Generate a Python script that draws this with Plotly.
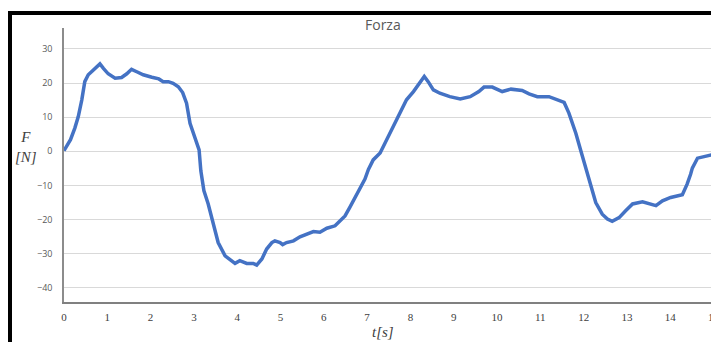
import plotly.graph_objects as go

t_s = [0.00, 0.06, 0.15, 0.25, 0.33, 0.41, 0.48, 0.56, 0.68, 0.83, 0.91, 1.02, 1.18, 1.33, 1.45,
       1.56, 1.68, 1.83, 2.03, 2.19, 2.29, 2.41, 2.52, 2.64, 2.74, 2.83, 2.91, 3.02, 3.12, 3.16,
       3.23, 3.33, 3.45, 3.56, 3.72, 3.83, 3.95, 4.06, 4.22, 4.37, 4.45, 4.57, 4.68, 4.80, 4.87,
       4.99, 5.05, 5.14, 5.30, 5.45, 5.61, 5.76, 5.91, 6.07, 6.26, 6.37, 6.49, 6.60, 6.72, 6.84,
       6.95, 7.03, 7.14, 7.30, 7.45, 7.64, 7.76, 7.91, 8.07, 8.22, 8.32, 8.41, 8.53, 8.68, 8.91,
       9.15, 9.38, 9.58, 9.70, 9.89, 10.12, 10.32, 10.58, 10.74, 10.93, 11.20, 11.36, 11.55, 11.66,
       11.82, 11.93, 12.05, 12.16, 12.28, 12.43, 12.55, 12.66, 12.82, 12.97, 13.13, 13.36, 13.51,
       13.67, 13.82, 14.01, 14.28, 14.39, 14.47, 14.51, 14.63, 14.82, 14.97, 15.06]
forza_N = [0.2, 1.4, 3.4, 6.8, 10.2, 15.0, 20.4, 22.4, 23.8, 25.6, 24.3, 22.7, 21.4, 21.6, 22.7,
           24.0, 23.3, 22.4, 21.7, 21.2, 20.4, 20.4, 19.9, 18.9, 17.2, 14.1, 8.2, 4.3, 0.4, -5.7,
           -11.5, -15.4, -21.3, -26.7, -30.6, -31.8, -32.8, -32.0, -32.8, -32.8, -33.3, -31.5, -28.6, -26.7, -26.2,
           -26.7, -27.3, -26.7, -26.2, -25.0, -24.2, -23.5, -23.7, -22.5, -21.8, -20.3, -18.9, -16.4, -13.5, -10.6,
           -8.1, -5.3, -2.5, -0.5, 3.4, 8.2, 11.2, 15.1, 17.5, 20.4, 21.9, 20.4, 18.0, 17.0, 16.0,
           15.3, 16.0, 17.5, 18.8, 18.8, 17.5, 18.2, 17.8, 16.8, 16.0, 16.0, 15.1, 14.3, 11.2,
           5.3, 0.4, -4.9, -10.6, -15.0, -18.4, -19.8, -20.5, -19.4, -17.4, -15.4, -14.8, -15.4,
           -15.9, -14.5, -13.5, -12.7, -9.6, -6.7, -4.9, -2.0, -1.5, -1.0, -0.4]

x_ticks = list(range(0, 16))
y_ticks = [-40, -30, -20, -10, 0, 10, 20, 30]

OFF = 8  # page body margin
W, H = 719 - OFF, 342 - OFF
L, R, T, B = 64 - OFF, 717 - OFF, 28 - OFF, 302 - OFF  # plot area in figure pixels


def px(x):
    return (x - OFF - L) / (R - L)


def py(y):
    return (B - (y - OFF)) / (B - T)


fig = go.Figure()
fig.add_trace(go.Scatter(x=t_s, y=forza_N, mode="lines",
                         line=dict(color="#4472C4", width=3.5), showlegend=False))

fig.update_layout(
    width=W, height=H,
    margin=dict(l=L, r=W - R, t=T, b=H - B, autoexpand=False),
    paper_bgcolor="white", plot_bgcolor="white",
    xaxis=dict(range=[0, 15.08], tickvals=x_ticks, ticktext=[str(v) for v in x_ticks],
               showgrid=False, zeroline=False, showline=True, linecolor="#808080", linewidth=2,
               tickfont=dict(family="Liberation Serif", size=11, color="#404040"),
               ticks="", ticklabelstandoff=4, automargin=False, ticklabeloverflow="allow"),
    yaxis=dict(range=[-44.1, 36.1], tickvals=y_ticks, showgrid=True, gridcolor="#d9d9d9",
               gridwidth=1, zeroline=False, showline=True, linecolor="#8c8c8c", linewidth=1.5,
               tickfont=dict(family="Open Sans", size=9, color="#595959"),
               ticks="", ticklabelstandoff=8, automargin=False),
    shapes=[
        dict(type="line", xref="paper", yref="paper", x0=px(10), x1=px(740), y0=py(13), y1=py(13),
             line=dict(color="black", width=4)),
        dict(type="line", xref="paper", yref="paper", x0=px(10), x1=px(10), y0=py(11), y1=py(360),
             line=dict(color="black", width=4)),
    ],
    annotations=[
        dict(text="Forza", xref="paper", yref="paper", x=px(383), y=py(24), showarrow=False,
             font=dict(family="Open Sans", size=14, color="#595959"), xanchor="center", yanchor="middle"),
        dict(text="<i>F</i><br><i>[N]</i>", xref="paper", yref="paper", x=px(26), y=py(147),
             showarrow=False, font=dict(family="Liberation Serif", size=15, color="#404040"),
             xanchor="center", yanchor="middle"),
        dict(text="<i>t[s]</i>", xref="paper", yref="paper", x=px(383), y=py(332), showarrow=False,
             font=dict(family="Liberation Serif", size=15, color="#404040"),
             xanchor="center", yanchor="middle"),
    ],
)

fig.write_html("out.html")
